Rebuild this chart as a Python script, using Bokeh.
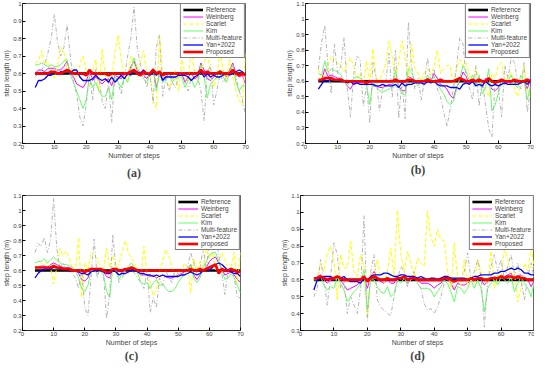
from bokeh.plotting import figure
from bokeh.layouts import column, row
from bokeh.models import Range1d, FixedTicker, LinearAxis
from bokeh.embed import file_html
from bokeh.resources import INLINE

STEPS = list(range(4, 71))
REF_VALUE = 0.6
X_TICKS = [0, 10, 20, 30, 40, 50, 60, 70]
NAMES = ["Reference", "Weinberg", "Scarlet", "Kim", "Multi-feature", "Yan+2022", "Proposed"]

# ---------------- panel (a) ----------------
a_weinberg = [0.60,0.62,0.62,0.61,0.63,0.63,0.63,0.62,0.62,0.64,
              0.67,0.60,0.58,0.54,0.53,0.52,0.55,0.62,0.56,0.58,
              0.56,0.54,0.56,0.57,0.53,0.59,0.58,0.57,0.60,0.59,
              0.64,0.67,0.62,0.61,0.59,0.57,0.60,0.63,0.52,0.60,
              0.57,0.58,0.60,0.57,0.58,0.59,0.60,0.55,0.58,0.60,
              0.57,0.58,0.66,0.62,0.57,0.56,0.58,0.60,0.62,0.60,
              0.58,0.62,0.66,0.60,0.58,0.59,0.54]
a_scarlet = [0.66,0.67,0.73,0.65,0.67,0.62,0.57,0.65,0.75,0.72,
             0.62,0.63,0.60,0.58,0.65,0.70,0.61,0.53,0.60,0.68,
             0.50,0.74,0.58,0.60,0.55,0.72,0.82,0.68,0.60,0.55,
             0.70,0.65,0.62,0.66,0.73,0.61,0.60,0.45,0.40,0.82,
             0.60,0.58,0.52,0.56,0.62,0.50,0.68,0.60,0.55,0.75,
             0.60,0.55,0.62,0.66,0.72,0.60,0.52,0.58,0.73,0.62,
             0.55,0.68,0.58,0.50,0.45,0.42,0.72]
a_kim = [0.65,0.65,0.66,0.65,0.64,0.65,0.64,0.64,0.65,0.67,
         0.68,0.59,0.55,0.50,0.45,0.40,0.45,0.58,0.52,0.55,
         0.50,0.47,0.47,0.52,0.45,0.58,0.55,0.52,0.58,0.55,
         0.62,0.69,0.63,0.60,0.57,0.55,0.60,0.63,0.50,0.60,
         0.55,0.56,0.60,0.55,0.57,0.58,0.58,0.52,0.56,0.57,
         0.52,0.55,0.65,0.58,0.46,0.54,0.56,0.58,0.62,0.58,
         0.55,0.60,0.65,0.55,0.50,0.53,0.53]
a_multi = [0.58,0.60,0.62,0.65,0.72,0.80,0.94,0.78,0.70,0.75,
           0.88,0.70,0.55,0.48,0.35,0.30,0.42,0.60,0.45,0.63,
           0.58,0.44,0.40,0.56,0.32,0.60,0.55,0.48,0.58,0.70,
           0.80,0.98,0.75,0.65,0.60,0.52,0.60,0.43,0.75,0.82,
           0.47,0.58,0.50,0.55,0.52,0.58,0.62,0.56,0.50,0.58,
           0.62,0.58,0.50,0.33,0.60,0.65,0.42,0.50,0.60,0.55,
           0.58,0.62,0.65,0.58,0.50,0.45,0.36]
a_yan = [0.52,0.56,0.56,0.57,0.59,0.59,0.60,0.60,0.61,0.61,
         0.62,0.60,0.62,0.62,0.58,0.56,0.56,0.56,0.57,0.59,
         0.57,0.56,0.57,0.55,0.58,0.55,0.57,0.59,0.57,0.60,
         0.59,0.62,0.61,0.60,0.62,0.60,0.59,0.61,0.59,0.61,
         0.56,0.58,0.58,0.58,0.58,0.59,0.59,0.59,0.58,0.56,
         0.58,0.59,0.61,0.58,0.60,0.58,0.59,0.58,0.58,0.59,
         0.60,0.59,0.60,0.61,0.62,0.61,0.59]
a_proposed = [0.60,0.60,0.60,0.60,0.60,0.61,0.61,0.60,0.60,0.61,
              0.62,0.61,0.60,0.60,0.60,0.60,0.59,0.62,0.60,0.60,
              0.60,0.60,0.60,0.59,0.60,0.60,0.60,0.60,0.60,0.60,
              0.61,0.62,0.60,0.59,0.61,0.60,0.60,0.62,0.60,0.61,
              0.59,0.60,0.60,0.60,0.60,0.60,0.60,0.60,0.60,0.60,
              0.60,0.60,0.62,0.60,0.61,0.60,0.60,0.60,0.61,0.60,
              0.60,0.60,0.62,0.60,0.59,0.60,0.59]

# ---------------- panel (b) ----------------
b_weinberg = [0.60,0.61,0.68,0.63,0.64,0.63,0.62,0.62,0.60,0.57,
              0.55,0.59,0.60,0.59,0.59,0.58,0.60,0.57,0.57,0.56,
              0.56,0.57,0.58,0.58,0.62,0.57,0.54,0.54,0.63,0.62,
              0.60,0.59,0.60,0.59,0.62,0.60,0.65,0.62,0.58,0.57,
              0.55,0.51,0.49,0.56,0.60,0.66,0.63,0.58,0.60,0.58,
              0.62,0.56,0.62,0.58,0.55,0.54,0.56,0.60,0.58,0.60,
              0.58,0.58,0.61,0.60,0.60,0.55,0.62]
b_scarlet = [0.68,0.62,0.64,0.70,0.76,0.74,0.72,0.70,0.66,0.72,
             0.75,0.70,0.62,0.65,0.58,0.73,0.60,0.81,0.62,0.60,
             0.65,0.72,0.86,0.76,0.60,0.73,0.86,0.76,0.60,0.84,
             0.68,0.65,0.60,0.66,0.68,0.64,0.70,0.80,0.65,0.68,
             0.70,0.70,0.56,0.68,0.74,0.70,0.72,0.64,0.60,0.68,
             0.62,0.58,0.55,0.50,0.65,0.62,0.70,0.72,0.60,0.62,
             0.66,0.55,0.50,0.58,0.70,0.55,0.50]
b_kim = [0.65,0.64,0.73,0.66,0.68,0.67,0.66,0.64,0.60,0.57,
         0.60,0.62,0.63,0.62,0.60,0.58,0.45,0.60,0.57,0.54,
         0.53,0.54,0.55,0.57,0.67,0.56,0.52,0.51,0.68,0.66,
         0.60,0.57,0.60,0.59,0.64,0.60,0.63,0.58,0.55,0.52,
         0.47,0.45,0.47,0.55,0.62,0.70,0.66,0.60,0.64,0.57,
         0.64,0.52,0.56,0.68,0.41,0.45,0.52,0.60,0.58,0.60,
         0.64,0.58,0.56,0.64,0.60,0.48,0.57]
b_multi = [0.68,0.85,0.96,0.70,0.52,0.84,0.65,0.70,0.88,0.55,
           0.37,0.65,0.76,0.74,0.44,0.58,0.33,0.72,0.62,0.41,
           0.55,0.60,0.78,0.50,0.80,0.36,0.60,0.36,0.98,0.70,
           0.55,0.62,0.48,0.60,0.75,0.60,0.68,0.55,0.50,0.40,
           0.31,0.42,0.55,0.70,0.88,0.84,0.62,0.56,0.48,0.70,
           0.44,0.60,0.45,0.30,0.24,0.60,0.55,0.37,0.70,0.62,
           0.75,0.72,0.60,0.55,0.72,0.40,0.55]
b_yan = [0.55,0.58,0.61,0.60,0.62,0.61,0.61,0.60,0.60,0.59,
         0.60,0.58,0.59,0.58,0.58,0.58,0.58,0.58,0.57,0.57,
         0.58,0.57,0.57,0.57,0.58,0.56,0.59,0.57,0.58,0.58,
         0.59,0.59,0.59,0.58,0.60,0.59,0.60,0.58,0.57,0.57,
         0.57,0.56,0.56,0.56,0.55,0.58,0.59,0.58,0.60,0.57,
         0.58,0.57,0.60,0.58,0.57,0.58,0.57,0.58,0.59,0.58,
         0.58,0.58,0.58,0.59,0.60,0.58,0.60]
b_proposed = [0.61,0.61,0.62,0.62,0.62,0.61,0.61,0.61,0.60,0.60,
              0.60,0.60,0.60,0.60,0.60,0.59,0.60,0.60,0.60,0.60,
              0.60,0.60,0.60,0.60,0.61,0.60,0.60,0.60,0.61,0.61,
              0.60,0.60,0.60,0.60,0.61,0.60,0.60,0.60,0.61,0.60,
              0.60,0.60,0.60,0.61,0.62,0.61,0.60,0.60,0.61,0.60,
              0.61,0.60,0.60,0.62,0.60,0.59,0.60,0.61,0.60,0.60,
              0.60,0.61,0.60,0.60,0.60,0.61,0.60]

# ---------------- panel (c) ----------------
c_weinberg = [0.62,0.62,0.63,0.63,0.62,0.64,0.65,0.64,0.63,0.62,
              0.62,0.62,0.61,0.60,0.58,0.54,0.53,0.55,0.61,0.61,
              0.60,0.60,0.59,0.56,0.55,0.61,0.60,0.57,0.59,0.60,
              0.61,0.62,0.61,0.59,0.57,0.57,0.57,0.56,0.57,0.55,
              0.56,0.57,0.56,0.55,0.55,0.56,0.57,0.58,0.59,0.60,
              0.64,0.57,0.54,0.57,0.60,0.62,0.66,0.68,0.69,0.65,
              0.61,0.57,0.58,0.59,0.57,0.54,0.52]
c_scarlet = [0.63,0.62,0.65,0.64,0.65,0.62,0.51,0.62,0.75,0.70,
             0.73,0.68,0.62,0.60,0.82,0.42,0.65,0.60,0.72,0.70,
             0.68,0.62,0.60,0.75,0.62,0.70,0.60,0.65,0.72,0.80,
             0.72,0.68,0.65,0.60,0.56,0.76,0.58,0.52,0.43,0.48,
             0.60,0.66,0.74,0.70,0.62,0.55,0.60,0.58,0.65,0.62,
             0.45,0.68,0.60,0.66,0.62,0.75,0.68,0.72,0.60,0.66,
             0.72,0.68,0.60,0.62,0.72,0.52,0.72]
c_kim = [0.65,0.66,0.66,0.68,0.65,0.67,0.69,0.67,0.65,0.64,
         0.64,0.63,0.62,0.60,0.55,0.48,0.46,0.50,0.60,0.60,
         0.58,0.60,0.57,0.46,0.42,0.62,0.60,0.54,0.58,0.60,
         0.63,0.65,0.62,0.58,0.52,0.51,0.52,0.48,0.52,0.54,
         0.50,0.51,0.48,0.46,0.46,0.48,0.52,0.55,0.57,0.60,
         0.64,0.55,0.52,0.55,0.62,0.66,0.70,0.72,0.72,0.66,
         0.60,0.54,0.55,0.58,0.55,0.50,0.45]
c_multi = [0.72,0.78,0.76,0.82,0.72,0.80,1.08,0.75,0.62,0.65,
           0.60,0.62,0.58,0.55,0.48,0.60,0.35,0.30,0.55,0.81,
           0.55,0.62,0.58,0.28,0.45,0.84,0.62,0.52,0.55,0.60,
           0.62,0.60,0.58,0.55,0.52,0.48,0.60,0.32,0.42,0.35,
           0.55,0.50,0.60,0.55,0.52,0.60,0.58,0.55,0.60,0.62,
           0.72,0.65,0.58,0.62,0.75,0.60,0.80,1.07,0.85,0.70,
           0.58,0.44,0.60,0.62,0.55,0.42,0.42]
c_yan = [0.55,0.58,0.60,0.61,0.61,0.61,0.62,0.62,0.61,0.61,
         0.61,0.60,0.60,0.60,0.59,0.58,0.58,0.57,0.59,0.60,
         0.60,0.60,0.59,0.58,0.58,0.60,0.59,0.57,0.58,0.58,
         0.59,0.60,0.60,0.59,0.58,0.58,0.57,0.57,0.56,0.57,
         0.56,0.57,0.56,0.56,0.56,0.56,0.56,0.57,0.57,0.58,
         0.59,0.58,0.57,0.58,0.60,0.61,0.60,0.62,0.64,0.65,
         0.64,0.62,0.60,0.59,0.58,0.58,0.56]
c_proposed = [0.62,0.62,0.62,0.62,0.62,0.62,0.63,0.62,0.62,0.61,
              0.61,0.61,0.60,0.60,0.60,0.60,0.59,0.60,0.61,0.61,
              0.61,0.61,0.60,0.59,0.59,0.61,0.61,0.60,0.60,0.61,
              0.61,0.62,0.61,0.60,0.60,0.60,0.60,0.60,0.60,0.60,
              0.60,0.60,0.60,0.60,0.60,0.60,0.60,0.60,0.60,0.60,
              0.61,0.60,0.60,0.61,0.60,0.61,0.62,0.63,0.64,0.58,
              0.61,0.60,0.60,0.61,0.60,0.59,0.59]

# ---------------- panel (d) ----------------
d_weinberg = [0.60,0.62,0.63,0.60,0.58,0.60,0.60,0.62,0.60,0.57,
              0.54,0.55,0.56,0.57,0.59,0.62,0.55,0.62,0.65,0.60,
              0.59,0.58,0.60,0.58,0.58,0.62,0.60,0.62,0.58,0.60,
              0.61,0.60,0.58,0.58,0.58,0.57,0.55,0.57,0.58,0.61,
              0.60,0.58,0.54,0.58,0.57,0.57,0.58,0.60,0.59,0.61,
              0.60,0.57,0.59,0.61,0.62,0.61,0.63,0.62,0.63,0.64,
              0.60,0.62,0.63,0.61,0.60,0.56,0.60]
d_scarlet = [0.60,0.62,0.70,0.65,0.76,0.80,0.72,0.48,0.75,0.67,
             0.67,0.83,0.65,0.62,0.75,0.68,0.38,0.65,0.62,0.72,
             0.60,0.58,0.65,0.79,0.62,1.01,0.75,0.65,0.77,0.70,
             0.62,0.73,0.70,0.68,1.01,0.85,0.80,0.90,0.84,0.83,
             0.65,0.55,0.82,0.60,0.57,0.72,0.56,0.60,0.58,0.72,
             0.65,0.60,0.58,0.77,0.55,0.63,0.62,0.78,0.73,0.60,
             0.65,0.47,0.55,0.70,0.65,0.80,0.65]
d_kim = [0.60,0.60,0.62,0.57,0.54,0.56,0.55,0.62,0.58,0.54,
         0.47,0.50,0.53,0.55,0.58,0.66,0.42,0.60,0.60,0.56,
         0.53,0.52,0.56,0.50,0.52,0.60,0.58,0.61,0.58,0.60,
         0.62,0.58,0.55,0.55,0.55,0.54,0.50,0.53,0.56,0.60,
         0.58,0.53,0.47,0.56,0.55,0.52,0.55,0.60,0.55,0.60,
         0.55,0.41,0.55,0.58,0.60,0.57,0.62,0.60,0.58,0.62,
         0.53,0.58,0.62,0.58,0.55,0.50,0.60]
d_multi = [0.50,0.55,0.72,0.60,0.45,0.62,0.82,0.75,0.55,0.60,
           0.40,0.50,0.45,0.40,0.55,0.98,0.36,0.65,0.75,0.48,
           0.44,0.42,0.40,0.39,0.50,0.60,0.68,0.65,0.56,0.60,
           0.65,0.58,0.55,0.46,0.42,0.43,0.40,0.44,0.50,0.58,
           0.60,0.62,0.55,0.58,0.60,0.65,0.76,0.60,0.65,0.72,
           0.62,0.32,0.58,0.68,0.75,0.65,0.72,0.60,0.68,0.75,
           0.62,0.70,0.60,0.48,0.62,0.70,0.60]
d_yan = [0.54,0.60,0.61,0.62,0.62,0.62,0.61,0.62,0.61,0.62,
         0.60,0.59,0.59,0.59,0.58,0.61,0.60,0.62,0.63,0.63,
         0.63,0.64,0.64,0.63,0.62,0.62,0.63,0.63,0.62,0.62,
         0.62,0.61,0.62,0.61,0.60,0.61,0.61,0.60,0.61,0.62,
         0.62,0.61,0.61,0.61,0.61,0.61,0.60,0.61,0.62,0.62,
         0.63,0.63,0.63,0.63,0.64,0.64,0.65,0.65,0.66,0.67,
         0.66,0.67,0.66,0.64,0.64,0.63,0.63]
d_proposed = [0.61,0.61,0.62,0.61,0.60,0.61,0.61,0.62,0.61,0.60,
              0.60,0.60,0.60,0.60,0.60,0.62,0.59,0.61,0.62,0.61,
              0.60,0.60,0.61,0.60,0.60,0.61,0.61,0.62,0.60,0.61,
              0.61,0.60,0.60,0.60,0.60,0.60,0.60,0.60,0.60,0.61,
              0.61,0.60,0.59,0.60,0.60,0.60,0.60,0.61,0.60,0.61,
              0.61,0.60,0.60,0.61,0.61,0.61,0.62,0.61,0.62,0.62,
              0.61,0.62,0.61,0.61,0.60,0.60,0.60]

Y_TICKS_A = [0.2, 0.3, 0.4, 0.5, 0.6, 0.7, 0.8, 0.9, 1.0]
Y_TICKS_B = [0.2, 0.3, 0.4, 0.5, 0.6, 0.7, 0.8, 0.9, 1.0, 1.1]
Y_TICKS_D = [0.3, 0.4, 0.5, 0.6, 0.7, 0.8, 0.9, 1.0, 1.1]

STYLES = [
    dict(color="black", line_width=2.6, line_dash="solid"),
    dict(color="#ff00ff", line_width=1.0, line_dash="solid"),
    dict(color="#ffff00", line_width=1.0, line_dash="4 2"),
    dict(color="#66ff66", line_width=1.0, line_dash="solid"),
    dict(color="#b4b4b4", line_width=1.0, line_dash="4 2 1 2"),
    dict(color="#0000ff", line_width=1.3, line_dash="solid"),
    dict(color="#ff0000", line_width=2.6, line_dash="solid"),
]

FONT = "Liberation Sans"


def make_panel(tag, series, names, ylo, yhi, yticks, w, h, bl, br, bt, bb, tag_gap):
    p = figure(width=w, height=h, output_backend="svg", toolbar_location=None,
               x_range=Range1d(0, 70), y_range=Range1d(ylo, yhi),
               min_border_left=bl, min_border_right=br,
               min_border_top=bt, min_border_bottom=bb)
    ref = [REF_VALUE] * len(STEPS)
    allser = [ref] + series
    for ys, nm, st in zip(allser, names, STYLES):
        assert len(ys) == len(STEPS), (tag, nm, len(ys))
        p.line(STEPS, ys, legend_label=nm, **st)
    p.grid.visible = False
    p.outline_line_color = "black"
    p.outline_line_width = 0.6
    p.outline_line_alpha = 1
    p.xaxis.ticker = FixedTicker(ticks=X_TICKS)
    p.yaxis.ticker = FixedTicker(ticks=yticks)
    p.yaxis.major_label_overrides = {1.0: "1"}
    for ax in p.axis:
        ax.major_tick_in = 3
        ax.major_tick_out = 0
        ax.minor_tick_in = 0
        ax.minor_tick_out = 0
        ax.minor_tick_line_color = None
        ax.axis_line_width = 0.6
        ax.major_label_text_font = FONT
        ax.major_label_text_font_size = "6px"
        ax.major_label_standoff = 1
        ax.axis_label_text_font = FONT
        ax.axis_label_text_font_size = "7px"
        ax.axis_label_text_font_style = "normal"
        ax.axis_label_standoff = 0
    p.xaxis.axis_label = "Number of steps"
    p.yaxis.axis_label = "step length (m)"
    # sub-figure tag "(a)" etc. drawn as the label of a bare extra axis below
    tag_axis = LinearAxis(ticker=FixedTicker(ticks=[]), axis_label=tag,
                          axis_line_color=None, major_tick_line_color=None,
                          minor_tick_line_color=None, major_label_text_font_size="0px",
                          major_tick_in=0, major_tick_out=0,
                          minor_tick_in=0, minor_tick_out=0,
                          major_label_standoff=0, axis_label_standoff=tag_gap,
                          axis_label_text_font="Liberation Serif",
                          axis_label_text_font_style="bold",
                          axis_label_text_font_size="12px")
    p.add_layout(tag_axis, "below")
    lg = p.legend[0]
    lg.location = "top_right"
    lg.margin = 0
    lg.padding = 2
    lg.spacing = 0
    lg.label_height = 7
    lg.glyph_height = 7
    lg.glyph_width = 20
    lg.label_standoff = 3
    lg.label_text_font = FONT
    lg.label_text_font_size = "6.5px"
    lg.label_text_line_height = 1.0
    lg.border_line_color = "black"
    lg.border_line_width = 0.6
    lg.background_fill_alpha = 1
    return p


pa = make_panel("(a)", [a_weinberg, a_scarlet, a_kim, a_multi, a_yan, a_proposed],
                NAMES, 0.2, 1.0, Y_TICKS_A, 267, 182, 14, 22, 3, 30, 4)
pb = make_panel("(b)", [b_weinberg, b_scarlet, b_kim, b_multi, b_yan, b_proposed],
                NAMES, 0.2, 1.1, Y_TICKS_B, 267, 182, 38, 4, 2, 30, 1)
pc = make_panel("(c)", [c_weinberg, c_scarlet, c_kim, c_multi, c_yan, c_proposed],
                NAMES[:-1] + ["proposed"], 0.2, 1.1, Y_TICKS_B, 267, 183, 14, 27, 13, 25, 0)
pd = make_panel("(d)", [d_weinberg, d_scarlet, d_kim, d_multi, d_yan, d_proposed],
                NAMES, 0.3, 1.1, Y_TICKS_D, 267, 183, 33, 0, 3, 25, 0)

layout = column(row(pa, pb), row(pc, pd))
open("out.html", "w").write(file_html(layout, INLINE))
